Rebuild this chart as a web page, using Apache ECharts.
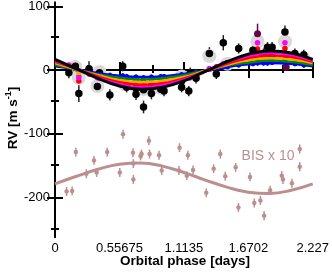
<!DOCTYPE html>
<html><head><meta charset="utf-8">
<script src="https://cdn.jsdelivr.net/npm/echarts@6/dist/echarts.min.js"></script>
<style>html,body{margin:0;padding:0;background:#fff}#c{width:332px;height:272px}</style>
</head><body><div id="c"></div>
<script>
// ---- tick labels ----
const xTickValues = [0, 0.55675, 1.1135, 1.6702, 2.227];
const xTickLabels = ['0', '0.55675', '1.1135', '1.6702', '2.227'];
const xMinorTicks = [0.278375, 0.835125, 1.391875, 1.948625];
const yTickValues = [-200, -100, 0, 100];
const yTickLabels = ['-200', '-100', '0', '100'];
const yMinorTicks = [-250, -150, -50, 50];

// ---- RV epochs (phase, days) with per-channel RVs ----
const epochX = [0.120,0.176,0.206,0.294,0.366,0.385,0.474,0.585,0.619,0.700,0.765,0.833,0.914,0.942,1.094,1.156,1.169,1.219,1.334,1.394,1.454,1.490,1.587,1.710,1.750,1.801,1.836,1.876,1.987,2.073,2.150];
const rvBlue    = [4, 2, -1, -3, -5, -5, -8, -9, -10, -11, -12, -11, -10, -10, -7, -5, -4, -3, 1, 2, 5, 5, 8, 10, 11, 11, 11, 12, 12, 10, 8];
const rvGreen   = [5, 2, -9, -4, -7, -7, -10, -13, -14, -15, -16, -15, -14, -13, -9, -7, -6, -4, 1, 3, 6, 7, 10, 13, 16, 14, 15, 15, 17, 13, 11];
const rvOrange  = [6, 3, -5, -4, -8, -9, -13, -16, -17, -19, -20, -19, -18, -17, -11, -9, -8, -6, 1, 4, 8, 9, 13, 17, 24, 18, 19, 19, 24, 17, 14];
const rvRed     = [7, 3, -17, -5, -10, -11, -15, -20, -21, -24, -25, -23, -22, -21, -14, -10, -10, -7, 2, 5, 9, 10, 16, 20, 33, 22, 23, 23, 34, 20, 17];
const rvMagenta = [8, 3, -12, -6, -12, -13, -18, -24, -26, -28, -30, -28, -26, -25, -17, -12, -12, -8, 2, 5, 10, 12, 18, 24, 43, 26, 27, 27, 43, 23, 20];
const channelErr = 4;

// ---- combined RV (black) ----
const blackX   = [0.120,0.176,0.206,0.294,0.366,0.385,0.474,0.585,0.619,0.700,0.700,0.765,0.765,0.833,0.833,0.914,0.942,1.094,1.094,1.156,1.169,1.219,1.334,1.394,1.454,1.490,1.587,1.710,1.801,1.836,1.876,1.876,1.987,1.998,2.073,2.150,2.150];
const blackY   = [-4, 6, -37, 2, -26, -4, -39, 6, -27, -28, -38, -31, -58, -26, -37, -30, -33, -17, -27, -33, -5, -13, 26, -6, 43, 10, 34, 31, 26, 36, 36, 23, 60, 24, 26, 24, 12];
const blackErr = [9, 10, 13, 12, 9, 9, 9, 8, 8, 9, 9, 8, 10, 8, 9, 8, 8, 10, 8, 8, 9, 8, 10, 8, 12, 9, 8, 8, 8, 8, 8, 8, 10, 8, 8, 8, 8];

// ---- outlier channel points (dark) ----
const darkX = [1.750, 1.998];
const darkY = [57, 5];
const darkErr = [16, 6];

// ---- grey highlighted epochs ----
const haloX = [0.176, 0.206, 0.366, 0.385, 0.600, 0.700, 0.765, 0.833, 0.914, 1.094, 1.334, 1.490, 1.750, 1.987, 2.150];
const haloY = [5, -12, -25, -3, -22, -25, -30, -30, -28, -10, 22, 10, 45, 45, 18];

// ---- model curves ----
const curveX      = [0, 0.1856, 0.3712, 0.5568, 0.7423, 0.9279, 1.1135, 1.2991, 1.4847, 1.6702, 1.8558, 2.0414, 2.227];
const fitBlue     = [6, 1, -5, -9, -11, -10, -6, -1, 5, 9, 11, 10, 6];
const fitGreen    = [8, 1, -7, -12, -15, -13, -8, -1, 7, 12, 15, 13, 8];
const fitOrange   = [11, 1, -8, -16, -19, -17, -11, -1, 8, 16, 19, 17, 11];
const fitRed      = [13, 2, -10, -19, -23, -21, -13, -2, 10, 19, 23, 21, 13];
const fitMagenta  = [15, 2, -12, -22, -27, -24, -15, -2, 12, 22, 27, 24, 15];
const fitBlack    = [17, 2, -13, -25, -30, -27, -17, -2, 13, 25, 30, 27, 17];
const fitBIS      = [-179, -167, -156, -148, -146, -151, -161, -173, -184, -192, -194, -189, -179];

// ---- BIS x 10 ----
const bisX = [0.100,0.148,0.180,0.271,0.337,0.360,0.451,0.560,0.588,0.674,0.677,0.677,0.739,0.748,0.811,0.817,0.899,0.922,1.071,1.076,1.139,1.148,1.193,1.307,1.371,1.428,1.471,1.561,1.585,1.685,1.722,1.775,1.807,1.859,1.959,1.970,2.047,2.115,2.115];
const bisY = [-191,-190,-129,-163,-142,-161,-129,-161,-101,-130,-147,-172,-135,-132,-111,-132,-134,-158,-158,-122,-166,-134,-157,-193,-155,-132,-167,-153,-216,-168,-209,-205,-229,-189,-166,-172,-178,-124,-152];
const bisErr = 7;

const FONT = '"Liberation Sans", Arial, Helvetica, sans-serif';
const C = {
  blue: '#0000ff', green: '#008b00', orange: '#ffa500', red: '#ff0000', magenta: '#ff00ff',
  black: '#000000', dark: '#670748', halo: '#d9d9d9', bis: '#bc8f8f'
};

function zip2(xs, ys) { return xs.map((x, i) => [x, ys[i]]); }
function zip3(xs, ys, es) { return xs.map((x, i) => [x, ys[i], Array.isArray(es) ? es[i] : es]); }

function errSeries(data, color, width) {
  return {
    type: 'custom', xAxisIndex: 0, yAxisIndex: 0, data: data, silent: true,
    renderItem: function (params, api) {
      const x = api.value(0), y = api.value(1), e = api.value(2);
      const p1 = api.coord([x, y - e]), p2 = api.coord([x, y + e]);
      return { type: 'line', shape: { x1: p1[0], y1: p1[1], x2: p2[0], y2: p2[1] },
               style: { stroke: color, lineWidth: width } };
    }
  };
}
function pts(data, color, size) {
  return { type: 'scatter', xAxisIndex: 0, yAxisIndex: 0, data: data, symbol: 'circle', symbolSize: size,
           itemStyle: { color: color, opacity: 1 }, silent: true, animation: false };
}
function fitLine(ys, color, width) {
  return { type: 'line', xAxisIndex: 0, yAxisIndex: 0, data: zip2(curveX, ys), smooth: 0.45, symbol: 'none',
           lineStyle: { color: color, width: width }, silent: true, animation: false };
}

function xAx(pos, ticks, len, labels) {
  return {
    type: 'value', gridIndex: pos.g, position: pos.p, min: 0, max: 2.227,
    splitLine: { show: false },
    axisLine: { show: labels, lineStyle: { color: '#000', width: 2 } },
    axisTick: { show: true, inside: true, length: len, customValues: ticks, lineStyle: { color: '#000', width: 2 } },
    axisLabel: labels && pos.p === 'bottom' ? {
      show: true, customValues: xTickValues, margin: 5, color: '#000', fontSize: 13, fontFamily: FONT,
      formatter: function (v) { const i = xTickValues.findIndex(t => Math.abs(t - v) < 1e-6); return i >= 0 ? xTickLabels[i] : ''; }
    } : { show: false }
  };
}
function yAx(pos, ticks, len, labels) {
  return {
    type: 'value', gridIndex: pos.g, position: pos.p, min: -262.5, max: 106.25,
    splitLine: { show: false },
    axisLine: { show: labels, lineStyle: { color: '#000', width: 2 } },
    axisTick: { show: true, inside: true, length: len, customValues: ticks, lineStyle: { color: '#000', width: 2 } },
    axisLabel: labels && pos.p === 'left' ? {
      show: true, customValues: yTickValues, margin: 5, color: '#000', fontSize: 13, fontFamily: FONT,
      formatter: function (v) { const i = yTickValues.findIndex(t => Math.abs(t - v) < 1e-6); return i >= 0 ? yTickLabels[i] : ''; }
    } : { show: false }
  };
}

const gridRect = { left: 55, right: 17, top: 1, bottom: 35 };

const series = [
  // BIS
  fitLine(fitBIS, C.bis, 3),
  errSeries(zip3(bisX, bisY, bisErr), C.bis, 1.5),
  pts(zip2(bisX, bisY), C.bis, 4.5),
  // halos
  pts(zip2(haloX, haloY), C.halo, 14),
  // channel fits
  fitLine(fitBlue, C.blue, 2.5),
  fitLine(fitGreen, C.green, 2.5),
  fitLine(fitOrange, C.orange, 2.5),
  fitLine(fitRed, C.red, 2.5),
  fitLine(fitMagenta, C.magenta, 2.5),
  // channel points
  errSeries(zip3(epochX, rvBlue, channelErr), C.blue, 1.5), pts(zip2(epochX, rvBlue), C.blue, 5),
  errSeries(zip3(epochX, rvGreen, channelErr), C.green, 1.5), pts(zip2(epochX, rvGreen), C.green, 5),
  errSeries(zip3(epochX, rvOrange, channelErr), C.orange, 1.5), pts(zip2(epochX, rvOrange), C.orange, 5),
  errSeries(zip3(epochX, rvRed, channelErr), C.red, 1.5), pts(zip2(epochX, rvRed), C.red, 5.5),
  errSeries(zip3(epochX, rvMagenta, channelErr), C.magenta, 1.5), pts(zip2(epochX, rvMagenta), C.magenta, 5.5),
  errSeries(zip3(darkX, darkY, darkErr), C.dark, 1.5), pts(zip2(darkX, darkY), C.dark, 7),
  // black fit and points
  fitLine(fitBlack, C.black, 3),
  errSeries(zip3(blackX, blackY, blackErr), '#222', 1.5),
  pts(zip2(blackX, blackY), C.black, 7.5)
];

const chart = echarts.init(document.getElementById('c'), null, { renderer: 'canvas' });
chart.setOption({
  animation: false,
  backgroundColor: '#fff',
  grid: [Object.assign({}, gridRect), Object.assign({}, gridRect)],
  xAxis: [
    xAx({ g: 0, p: 'bottom' }, xTickValues, 8, true),
    xAx({ g: 0, p: 'top' }, xTickValues, 8, true),
    xAx({ g: 1, p: 'bottom' }, xMinorTicks, 4, false),
    xAx({ g: 1, p: 'top' }, xMinorTicks, 4, false)
  ],
  yAxis: [
    yAx({ g: 0, p: 'left' }, yTickValues, 8, true),
    yAx({ g: 0, p: 'right' }, yTickValues, 8, true),
    yAx({ g: 1, p: 'left' }, yMinorTicks, 4, false),
    yAx({ g: 1, p: 'right' }, yMinorTicks, 4, false)
  ],
  series: series,
  graphic: [
    { type: 'text', style: { text: 'Orbital phase [days]', x: 185, y: 261, align: 'center', verticalAlign: 'middle',
      fontFamily: FONT, fontSize: 13.5, fontWeight: 'bold', fill: '#000' } },
    { type: 'text', x: 12, y: 118, rotation: Math.PI / 2,
      style: { text: '{b|RV [m s}{s|-1}{b|]}', align: 'center', verticalAlign: 'middle', fill: '#000',
        rich: { b: { fontFamily: FONT, fontSize: 13.5, fontWeight: 'bold', verticalAlign: 'bottom', lineHeight: 16 },
                s: { fontFamily: FONT, fontSize: 9, fontWeight: 'bold', verticalAlign: 'top', lineHeight: 16 } } } },
    { type: 'text', style: { text: 'BIS x 10', x: 268, y: 156, align: 'center', verticalAlign: 'middle',
      fontFamily: FONT, fontSize: 14, fill: C.bis } }
  ]
});
</script></body></html>
